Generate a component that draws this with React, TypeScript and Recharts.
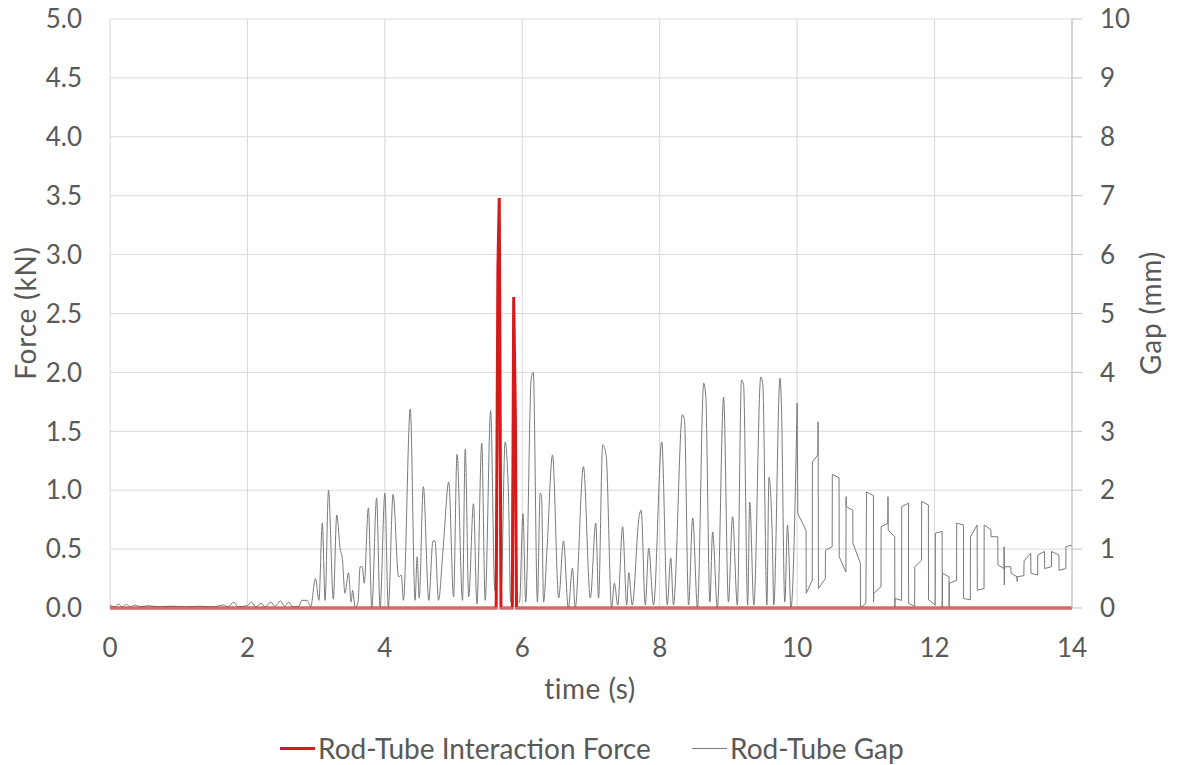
import React from 'react';
import { LineChart, Line, XAxis, YAxis, CartesianGrid } from 'recharts';

// --- Data (time in s) ---

const xTicks = [0, 2, 4, 6, 8, 10, 12, 14];
const forceTicks = [0, 0.5, 1, 1.5, 2, 2.5, 3, 3.5, 4, 4.5, 5];
const gapTicks = [0, 1, 2, 3, 4, 5, 6, 7, 8, 9, 10];

// Rod-Tube Interaction Force (kN)
const forcePoints: [number, number][] = [
    [0, 0], [5.62, 0], [5.645, 2.88], [5.665, 3.48], [5.69, 0],
    [5.855, 0], [5.875, 2.64], [5.9, 1.62], [5.915, 0], [14, 0],
];

// Rod-Tube Gap (mm), before contact starts
const gapBuildUp: [number, number][] = [
    [0, 0.05], [0.08, 0.02], [0.12, 0.07], [0.18, 0.02], [0.24, 0.06], [0.3, 0.02], [0.36, 0.05],
    [0.45, 0.02], [0.55, 0.04], [0.7, 0.02], [0.9, 0.03], [1.1, 0.02], [1.3, 0.03], [1.5, 0.02],
    [1.65, 0.05], [1.72, 0.02], [1.8, 0.1], [1.86, 0.02], [2.0, 0.04], [2.06, 0.1], [2.12, 0.02],
    [2.2, 0.08], [2.26, 0.02], [2.34, 0.1], [2.4, 0.03], [2.48, 0.12], [2.54, 0.03], [2.6, 0.1],
    [2.66, 0.02], [2.75, 0.03], [2.79, 0.13], [2.87, 0.13], [2.92, 0.02],
];

// Rod-Tube Gap (mm), oscillating part
const gapOscillation: [number, number][] = [
    [2.99, 0.5], [3.04, 0.13], [3.09, 1.44], [3.13, 0.13], [3.18, 2.0], [3.25, 0.15], [3.3, 1.58],
    [3.35, 1.0], [3.38, 0.85], [3.42, 0.25], [3.47, 0.6], [3.51, 0.1], [3.53, 0.3], [3.57, 0.0],
    [3.61, 0.1], [3.64, 0.7], [3.67, 0.7], [3.7, 0.42], [3.76, 1.7], [3.81, 0.0], [3.88, 1.87],
    [3.93, 0.0], [4.0, 1.95], [4.05, 0.0], [4.12, 1.93], [4.2, 0.53], [4.24, 0.56], [4.27, 0.13],
    [4.37, 3.38], [4.44, 0.13], [4.47, 0.87], [4.5, 0.17], [4.56, 2.06], [4.64, 0.13], [4.7, 1.14],
    [4.73, 1.14], [4.78, 0.13], [4.85, 1.04], [4.93, 2.14], [5.0, 0.19], [5.05, 2.61], [5.13, 0.13],
    [5.17, 2.7], [5.22, 0.19], [5.29, 1.77], [5.34, 0.07], [5.41, 2.8], [5.46, 0.13], [5.54, 3.35],
    [5.6, 0.3], [5.65, 4.0], [5.69, 0.2], [5.75, 2.82], [5.8, 1.89], [5.83, 0.1], [5.88, 4.0],
    [5.93, 0.1], [5.96, 0.1], [6.01, 1.6], [6.05, 0.1], [6.13, 3.9], [6.16, 4.0], [6.22, 0.1],
    [6.26, 1.95], [6.28, 1.9], [6.31, 0.1], [6.36, 1.0], [6.44, 2.6], [6.53, 0.17], [6.6, 1.14],
    [6.67, 0.0], [6.73, 0.68], [6.77, 0.0], [6.89, 2.4], [6.99, 0.17], [7.07, 1.44], [7.11, 0.17],
    [7.17, 2.77], [7.22, 2.6], [7.3, 0.0], [7.34, 0.42], [7.39, 0.05], [7.46, 1.38], [7.52, 0.05],
    [7.55, 0.6], [7.6, 0.05], [7.7, 1.55], [7.73, 1.66], [7.79, 0.05], [7.84, 1.02], [7.91, 0.05],
    [8.03, 2.82], [8.11, 0.05], [8.16, 0.85], [8.2, 0.05], [8.33, 3.28], [8.36, 3.2], [8.42, 0.05],
    [8.48, 1.53], [8.55, 0.0], [8.64, 3.82], [8.67, 3.6], [8.73, 0.1], [8.77, 1.29], [8.84, 0.0],
    [8.93, 3.58], [9.0, 0.1], [9.06, 1.55], [9.13, 0.05], [9.19, 3.87], [9.22, 3.8], [9.28, 0.05],
    [9.31, 1.8], [9.37, 0.05], [9.47, 3.92], [9.5, 3.8], [9.56, 0.05], [9.59, 2.22], [9.64, 1.12],
    [9.66, 0.05], [9.75, 3.9], [9.77, 3.5], [9.82, 0.1], [9.86, 1.41], [9.91, 0.0], [10.0, 3.48],
];

// Rod-Tube Gap (mm), coarse samples after 10 s
const gapSampled: [number, number][] = [
    [10.0, 3.48], [10.01, 1.6], [10.13, 1.32], [10.132, 0.25], [10.22, 0.47], [10.222, 2.48],
    [10.3, 2.6], [10.305, 3.16], [10.31, 0.33], [10.41, 0.5], [10.412, 0.98], [10.51, 1.04],
    [10.512, 2.27], [10.61, 2.21], [10.612, 0.87], [10.71, 0.61], [10.712, 1.89], [10.715, 1.72],
    [10.81, 1.66], [10.812, 1.1], [10.92, 0.76], [10.922, 0.0], [11.0, 0.08], [11.01, 1.97],
    [11.11, 1.91], [11.112, 0.1], [11.115, 0.25], [11.22, 0.36], [11.222, 1.38], [11.32, 1.44],
    [11.322, 1.89], [11.325, 1.32], [11.42, 1.21], [11.422, 0.0], [11.425, 0.16], [11.52, 0.13],
    [11.522, 1.72], [11.62, 1.78], [11.622, 0.08], [11.71, 0.03], [11.712, 0.7], [11.81, 0.81],
    [11.812, 1.81], [11.91, 1.75], [11.912, 0.14], [12.01, 0.05], [12.012, 1.27], [12.11, 1.3],
    [12.112, 0.0], [12.115, 0.59], [12.21, 0.53], [12.212, 0.0], [12.215, 0.42], [12.32, 0.47],
    [12.322, 1.44], [12.42, 1.41], [12.422, 0.16], [12.52, 0.14], [12.522, 1.21], [12.62, 1.41],
    [12.622, 0.3], [12.72, 0.33], [12.722, 1.41], [12.82, 1.33], [12.822, 1.21], [12.92, 1.21],
    [12.922, 0.73], [13.01, 0.67], [13.012, 1.04], [13.015, 0.39], [13.02, 0.7], [13.11, 0.7],
    [13.112, 0.59], [13.2, 0.53], [13.202, 0.45], [13.205, 0.53], [13.3, 0.55], [13.302, 0.8],
    [13.4, 0.93], [13.402, 0.59], [13.5, 0.56], [13.502, 0.9], [13.6, 0.96], [13.602, 0.67],
    [13.7, 0.7], [13.702, 0.96], [13.81, 0.9], [13.812, 0.64], [13.91, 0.67], [13.912, 1.04],
    [14.0, 1.07],
];

const forceData = forcePoints.map(([t, force]) => ({ t, force }));
// densely logged part drawn smooth, coarse samples drawn straight
const gapSmoothData = [...gapBuildUp, ...gapOscillation].map(([t, gap]) => ({ t, gap }));
const gapSampledData = gapSampled.map(([t, gap]) => ({ t, gap }));

// --- Styles ---

const FONT = 'Lato, "Open Sans", sans-serif';
const TEXT = '#595959';
const RED = '#d6191b';
const GREY = '#7a7a7a';
const tickStyle = { fill: TEXT, fontSize: 26, fontFamily: FONT };

const textStyle: React.CSSProperties = {
    position: 'absolute',
    fontFamily: FONT,
    fontSize: 28,
    color: TEXT,
    whiteSpace: 'nowrap',
    lineHeight: 1,
};

export default function App() {
    return (
        <div style={{ position: 'absolute', left: 0, top: 0, width: 1177, height: 765, background: '#fff' }}>
            <LineChart width={1177} height={765} margin={{ top: 19, right: 0, bottom: 0, left: 0 }}>
                <CartesianGrid stroke="#d9d9d9" yAxisId="force" />
                <XAxis
                    type="number"
                    dataKey="t"
                    domain={[0, 14]}
                    ticks={xTicks}
                    height={157}
                    tickSize={0}
                    tickMargin={31}
                    axisLine={{ stroke: '#bfbfbf' }}
                    tick={tickStyle}
                />
                <YAxis
                    yAxisId="force"
                    domain={[0, 5]}
                    ticks={forceTicks}
                    width={110}
                    axisLine={false}
                    tickLine={false}
                    tickSize={0}
                    tickMargin={28}
                    tick={tickStyle}
                    tickFormatter={(v: number) => v.toFixed(1)}
                />
                <YAxis
                    yAxisId="gap"
                    orientation="right"
                    domain={[0, 10]}
                    ticks={gapTicks}
                    width={105}
                    tickSize={10}
                    tickMargin={18}
                    axisLine={{ stroke: '#bfbfbf' }}
                    tickLine={{ stroke: '#bfbfbf' }}
                    tick={tickStyle}
                />
                <Line
                    yAxisId="gap"
                    data={gapSmoothData}
                    dataKey="gap"
                    type="monotone"
                    stroke={GREY}
                    strokeWidth={1}
                    dot={false}
                    isAnimationActive={false}
                />
                <Line
                    yAxisId="gap"
                    data={gapSampledData}
                    dataKey="gap"
                    type="linear"
                    stroke={GREY}
                    strokeWidth={1}
                    dot={false}
                    isAnimationActive={false}
                />
                <Line
                    yAxisId="force"
                    data={forceData}
                    dataKey="force"
                    type="linear"
                    stroke={RED}
                    strokeWidth={3}
                    dot={false}
                    isAnimationActive={false}
                />
            </LineChart>

            {/* Axis titles */}
            <div style={{ ...textStyle, left: 25, top: 313, transform: 'translate(-50%, -50%) rotate(-90deg)', letterSpacing: 0.8 }}>
                Force (kN)
            </div>
            <div style={{ ...textStyle, left: 1150, top: 313, transform: 'translate(-50%, -50%) rotate(-90deg)', letterSpacing: 0.8 }}>
                Gap (mm)
            </div>
            <div style={{ ...textStyle, left: 590, top: 688, transform: 'translate(-50%, -50%)', letterSpacing: 0.5 }}>time (s)</div>

            {/* Legend */}
            <div style={{ position: 'absolute', left: 280, top: 747, width: 35, height: 3, background: RED }} />
            <div style={{ ...textStyle, left: 318, top: 748, transform: 'translateY(-50%)' }}>Rod-Tube Interaction Force</div>
            <div style={{ position: 'absolute', left: 692, top: 748, width: 35, height: 1, background: GREY }} />
            <div style={{ ...textStyle, left: 730, top: 748, transform: 'translateY(-50%)' }}>Rod-Tube Gap</div>
        </div>
    );
}
